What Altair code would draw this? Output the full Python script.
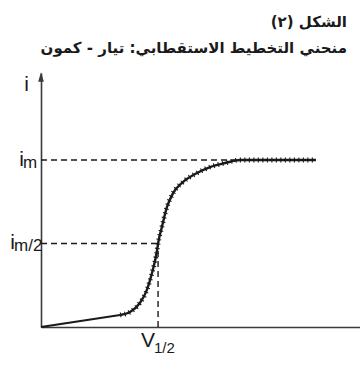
import altair as alt
import pandas as pd

# Polarisation curve (arbitrary units)
V = [0, 2.48, 2.79, 3.10, 3.32, 3.48, 3.64, 3.67, 3.79, 3.95, 4.14, 4.45, 4.89, 5.30, 5.77, 6.24, 8.62]
I = [0, 0.072, 0.090, 0.144, 0.222, 0.323, 0.461, 0.5, 0.599, 0.719, 0.802, 0.868, 0.922, 0.958, 0.982, 1.0, 1.0]

I_M = 1.0
I_HALF = 0.5
V_HALF = 3.67
IM_DASH_END = 6.08
X_MAX = 10.0
Y_MAX = 1.521

title_lines = ["الشكل (٢)", "منحني التخطيط الاستقطابي: تيار - كمون"]

curve = pd.DataFrame({"V": V, "I": I})
foot = curve.iloc[:2].reset_index(drop=True)
rise = curve.iloc[1:].reset_index(drop=True)

xs = alt.Scale(domain=[0, X_MAX], nice=False, zero=False)
ys = alt.Scale(domain=[0, Y_MAX], nice=False, zero=False)

ax_style = dict(labels=False, ticks=False, grid=False, title=None,
                domainColor="#3a3a3a", domainWidth=1.6)

base_axes = alt.Chart(pd.DataFrame({"V": [0], "I": [0]})).mark_point(opacity=0).encode(
    x=alt.X("V:Q", scale=xs, axis=alt.Axis(**ax_style)),
    y=alt.Y("I:Q", scale=ys, axis=alt.Axis(**ax_style)),
)

line_foot = alt.Chart(foot).mark_line(color="#1a1a1a", strokeWidth=2.2).encode(
    x=alt.X("V:Q", scale=xs), y=alt.Y("I:Q", scale=ys)
)
line = alt.Chart(rise).mark_line(interpolate="monotone", color="#1a1a1a", strokeWidth=2.4).encode(
    x=alt.X("V:Q", scale=xs), y=alt.Y("I:Q", scale=ys)
)
jagged = alt.Chart(rise).mark_line(interpolate="monotone", color="#1a1a1a", strokeWidth=4.8,
                                  strokeDash=[1.1, 3.4]).encode(
    x=alt.X("V:Q", scale=xs), y=alt.Y("I:Q", scale=ys)
)

guides = pd.DataFrame({
    "x": [0, 0, V_HALF],
    "x2": [IM_DASH_END, V_HALF, V_HALF],
    "y": [I_M, I_HALF, 0],
    "y2": [I_M, I_HALF, I_HALF],
})
dash = alt.Chart(guides).mark_rule(color="#1a1a1a", strokeWidth=1.4, strokeDash=[6, 4]).encode(
    x=alt.X("x:Q", scale=xs), x2="x2:Q", y=alt.Y("y:Q", scale=ys), y2="y2:Q"
)

arrow = alt.Chart(pd.DataFrame({"V": [0]})).mark_point(
    shape="M0,-1L-0.6,1L0.6,1Z", filled=True, color="#3a3a3a", opacity=1, size=90
).encode(x=alt.X("V:Q", scale=xs), y=alt.value(4))

def txt(s, x, y, size, align="left", baseline="alphabetic", weight="normal", font="Liberation Sans"):
    return alt.Chart(pd.DataFrame({"t": [s]})).mark_text(
        align=align, baseline=baseline, fontSize=size, fontWeight=weight, font=font, color="#1a1a1a"
    ).encode(text="t:N", x=alt.value(x), y=alt.value(y))

labels = [
    txt(title_lines[0], 306, -46, 15, align="right", weight="bold", font="DejaVu Sans"),
    txt(title_lines[1], 306, -20, 15, align="right", weight="bold", font="DejaVu Sans"),
    txt("i", -12, 18, 21, align="right"),
    txt("i", -17, 93, 21, align="right"),
    txt("m", -18, 95, 17, align="left"),
    txt("i", -26, 176, 21, align="right"),
    txt("m/2", -27, 178, 17, align="left"),
    txt("V", 114, 274, 21, align="right"),
    txt("1/2", 113, 280, 15, align="left"),
]

chart = alt.layer(base_axes, dash, line_foot, line, jagged, arrow, *labels).properties(
    width=319, height=254,
    autosize=alt.AutoSizeParams(type="none"),
    padding={"left": 41, "top": 73, "right": 0, "bottom": 40},
).configure_view(stroke=None)

chart.save("out.html", embed_options={"renderer": "svg", "actions": False})
